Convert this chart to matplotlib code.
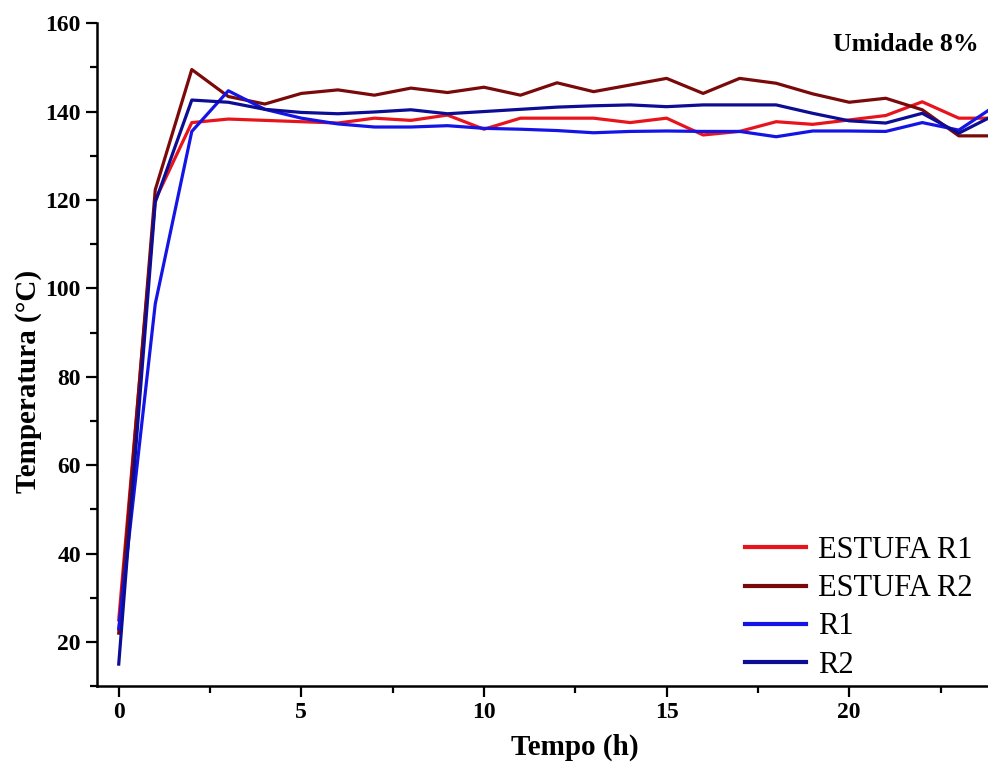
import numpy as np
import matplotlib
matplotlib.use('Agg')
from matplotlib import pyplot as plt
from matplotlib.ticker import MultipleLocator

# Tempo (h)
horas = list(range(0, 25))

# Temperaturas (°C)
estufa_r1 = [25, 120, 137.5, 138.3, 138.0, 137.7, 137.4, 138.5, 138.0, 139.2,
             136.0, 138.5, 138.5, 138.5, 137.5, 138.5, 134.7, 135.5, 137.7, 137.1,
             138.1, 139.1, 142.2, 138.5, 138.5]
estufa_r2 = [22, 122.3, 149.5, 143.4, 141.7, 144.1, 144.9, 143.7, 145.3, 144.3,
             145.5, 143.7, 146.5, 144.5, 146.0, 147.5, 144.1, 147.5, 146.4, 144.0,
             142.1, 143.0, 140.4, 134.5, 134.5]
r1 = [23, 96.5, 135.5, 144.7, 140.5, 138.5, 137.2, 136.5, 136.5, 136.8,
      136.2, 136.0, 135.7, 135.2, 135.5, 135.6, 135.5, 135.5, 134.3, 135.6,
      135.6, 135.5, 137.5, 135.8, 141.3]
r2 = [15, 119.5, 142.6, 142.1, 140.5, 139.8, 139.5, 139.9, 140.4, 139.5,
      140.0, 140.5, 141.0, 141.3, 141.5, 141.1, 141.5, 141.5, 141.5, 139.6,
      137.9, 137.4, 139.6, 135.1, 139.3]

plt.rcParams['font.family'] = ['Liberation Serif', 'DejaVu Serif']

fig = plt.figure(figsize=(9.88, 7.71), dpi=100)
ax = fig.add_axes([0.098, 0.110, 0.902, 0.860])

ax.plot(horas, estufa_r1, color='#e8141c', lw=2.3, label='ESTUFA R1')
ax.plot(horas, estufa_r2, color='#7a0a0a', lw=2.3, label='ESTUFA R2')
ax.plot(horas, r1, color='#1414e6', lw=2.3, label='R1')
ax.plot(horas, r2, color='#0c0c94', lw=2.3, label='R2')

ax.set_xlim(-0.6, 23.8)
ax.set_ylim(10, 160)

ax.xaxis.set_major_locator(MultipleLocator(5))
ax.xaxis.set_minor_locator(MultipleLocator(2.5))
ax.yaxis.set_major_locator(MultipleLocator(20))
ax.yaxis.set_minor_locator(MultipleLocator(10))
ax.set_yticks([20, 40, 60, 80, 100, 120, 140, 160])

ax.spines['top'].set_visible(False)
ax.spines['right'].set_visible(False)
ax.spines['left'].set_linewidth(1.8)
ax.spines['bottom'].set_linewidth(1.8)
ax.tick_params(which='major', direction='out', length=8, width=1.6, labelsize=17)
ax.tick_params(which='minor', direction='out', length=5, width=1.6)
for lbl in ax.get_xticklabels() + ax.get_yticklabels():
    lbl.set_fontweight('bold')

ax.set_xlabel('Tempo (h)', fontsize=21, fontweight='bold')
ax.set_ylabel('Temperatura (°C)', fontsize=21, fontweight='bold')
ax.xaxis.set_label_coords(0.536, -0.072)
ax.yaxis.set_label_coords(-0.062, 0.46)

ax.text(0.99, 0.985, 'Umidade 8%', transform=ax.transAxes, ha='right', va='top',
        fontsize=18.5, fontweight='bold')

leg = ax.legend(loc='lower right', bbox_to_anchor=(1.0, -0.013), frameon=False,
                fontsize=22, handlelength=2.0, handletextpad=0.4,
                labelspacing=0.3, borderaxespad=0.1)
for line in leg.get_lines():
    line.set_linewidth(3.0)

plt.savefig('out.png', dpi=100)
